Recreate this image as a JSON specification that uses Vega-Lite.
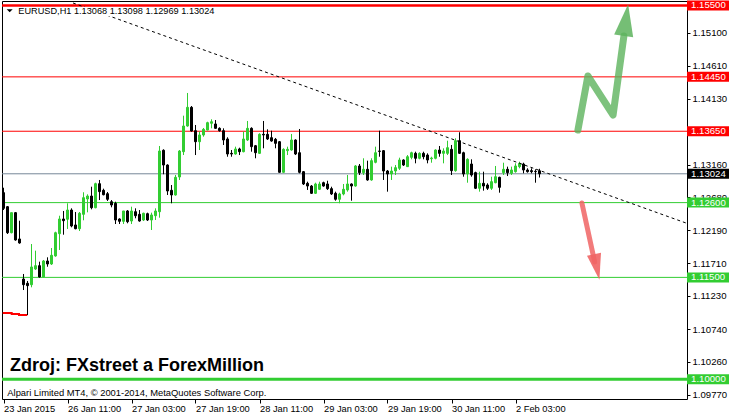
{
"$schema": "https://vega.github.io/schema/vega-lite/v6.json",
"width": 685, "height": 398,
"autosize": {"type": "none"},
"padding": {"left": 2, "top": 1, "right": 42, "bottom": 18},
"background": "#ffffff",
"config": {"view": {"stroke": "#000000", "strokeWidth": 1}, "font": "Liberation Sans",
  "axis": {"labelOverlap": false, "labelFlush": false, "grid": false, "domain": false, "title": null},
  "axisY": {"labelOverlap": false}, "axisX": {"labelOverlap": false}},
"datasets": {
"candles": [
{"i":0,"o":1.12746,"h":1.12819,"l":1.12491,"c":1.12516},
{"i":1,"o":1.12540,"h":1.12550,"l":1.12138,"c":1.12157},
{"i":2,"o":1.12157,"h":1.12452,"l":1.12148,"c":1.12452},
{"i":3,"o":1.12452,"h":1.12462,"l":1.12040,"c":1.12050},
{"i":4,"o":1.12065,"h":1.12334,"l":1.11995,"c":1.12006},
{"i":5,"o":1.11476,"h":1.11550,"l":1.11314,"c":1.11392},
{"i":6,"o":1.11413,"h":1.11447,"l":1.10946,"c":1.11378},
{"i":7,"o":1.11392,"h":1.11991,"l":1.11354,"c":1.11653},
{"i":8,"o":1.11623,"h":1.11893,"l":1.11609,"c":1.11672},
{"i":9,"o":1.11672,"h":1.11731,"l":1.11496,"c":1.11506},
{"i":10,"o":1.11506,"h":1.11756,"l":1.11501,"c":1.11741},
{"i":11,"o":1.11741,"h":1.11795,"l":1.11657,"c":1.11697},
{"i":12,"o":1.11697,"h":1.11932,"l":1.11682,"c":1.11825},
{"i":13,"o":1.11815,"h":1.12172,"l":1.11804,"c":1.12157},
{"i":14,"o":1.12143,"h":1.12407,"l":1.11903,"c":1.12359},
{"i":15,"o":1.12359,"h":1.12477,"l":1.12128,"c":1.12334},
{"i":16,"o":1.12355,"h":1.12590,"l":1.12212,"c":1.12491},
{"i":17,"o":1.12491,"h":1.12516,"l":1.12237,"c":1.12256},
{"i":18,"o":1.12271,"h":1.12462,"l":1.12207,"c":1.12216},
{"i":19,"o":1.12216,"h":1.12462,"l":1.12182,"c":1.12443},
{"i":20,"o":1.12428,"h":1.12752,"l":1.12340,"c":1.12672},
{"i":21,"o":1.12653,"h":1.12722,"l":1.12457,"c":1.12697},
{"i":22,"o":1.12697,"h":1.12834,"l":1.12501,"c":1.12525},
{"i":23,"o":1.12525,"h":1.12893,"l":1.12516,"c":1.12878},
{"i":24,"o":1.12878,"h":1.12933,"l":1.12638,"c":1.12761},
{"i":25,"o":1.12781,"h":1.12805,"l":1.12707,"c":1.12716},
{"i":26,"o":1.12731,"h":1.12756,"l":1.12624,"c":1.12649},
{"i":27,"o":1.12613,"h":1.12638,"l":1.12531,"c":1.12565},
{"i":28,"o":1.12590,"h":1.12613,"l":1.12285,"c":1.12344},
{"i":29,"o":1.12359,"h":1.12369,"l":1.12285,"c":1.12325},
{"i":30,"o":1.12325,"h":1.12477,"l":1.12285,"c":1.12477},
{"i":31,"o":1.12477,"h":1.12491,"l":1.12296,"c":1.12319},
{"i":32,"o":1.12329,"h":1.12540,"l":1.12285,"c":1.12477},
{"i":33,"o":1.12466,"h":1.12516,"l":1.12369,"c":1.12407},
{"i":34,"o":1.12428,"h":1.12491,"l":1.12319,"c":1.12329},
{"i":35,"o":1.12344,"h":1.12452,"l":1.12329,"c":1.12443},
{"i":36,"o":1.12437,"h":1.12452,"l":1.12329,"c":1.12344},
{"i":37,"o":1.12344,"h":1.12452,"l":1.12197,"c":1.12418},
{"i":38,"o":1.12407,"h":1.12516,"l":1.12344,"c":1.12477},
{"i":39,"o":1.12466,"h":1.13433,"l":1.12378,"c":1.13359},
{"i":40,"o":1.13370,"h":1.13384,"l":1.13017,"c":1.13153},
{"i":41,"o":1.13153,"h":1.13164,"l":1.12712,"c":1.12771},
{"i":42,"o":1.12781,"h":1.12859,"l":1.12590,"c":1.12712},
{"i":43,"o":1.12712,"h":1.13006,"l":1.12702,"c":1.12972},
{"i":44,"o":1.12977,"h":1.13374,"l":1.12933,"c":1.13359},
{"i":45,"o":1.13349,"h":1.13879,"l":1.13300,"c":1.13727},
{"i":46,"o":1.13727,"h":1.14213,"l":1.13717,"c":1.14002},
{"i":47,"o":1.14002,"h":1.14021,"l":1.13644,"c":1.13654},
{"i":48,"o":1.13658,"h":1.13742,"l":1.13300,"c":1.13496},
{"i":49,"o":1.13496,"h":1.13644,"l":1.13374,"c":1.13595},
{"i":50,"o":1.13595,"h":1.13698,"l":1.13570,"c":1.13678},
{"i":51,"o":1.13668,"h":1.13790,"l":1.13664,"c":1.13776},
{"i":52,"o":1.13767,"h":1.13826,"l":1.13693,"c":1.13790},
{"i":53,"o":1.13757,"h":1.13815,"l":1.13687,"c":1.13693},
{"i":54,"o":1.13693,"h":1.13708,"l":1.13644,"c":1.13658},
{"i":55,"o":1.13658,"h":1.13693,"l":1.13448,"c":1.13521},
{"i":56,"o":1.13536,"h":1.13561,"l":1.13275,"c":1.13315},
{"i":57,"o":1.13325,"h":1.13374,"l":1.13275,"c":1.13315},
{"i":58,"o":1.13315,"h":1.13423,"l":1.13305,"c":1.13389},
{"i":59,"o":1.13389,"h":1.13408,"l":1.13300,"c":1.13349},
{"i":60,"o":1.13349,"h":1.13644,"l":1.13340,"c":1.13536},
{"i":61,"o":1.13521,"h":1.13801,"l":1.13506,"c":1.13693},
{"i":62,"o":1.13693,"h":1.13708,"l":1.13349,"c":1.13423},
{"i":63,"o":1.13437,"h":1.13448,"l":1.13252,"c":1.13334},
{"i":64,"o":1.13325,"h":1.13620,"l":1.13315,"c":1.13605},
{"i":65,"o":1.13605,"h":1.13801,"l":1.13399,"c":1.13595},
{"i":66,"o":1.13605,"h":1.13678,"l":1.13521,"c":1.13536},
{"i":67,"o":1.13555,"h":1.13658,"l":1.13496,"c":1.13506},
{"i":68,"o":1.13531,"h":1.13551,"l":1.13399,"c":1.13472},
{"i":69,"o":1.13496,"h":1.13506,"l":1.13041,"c":1.13046},
{"i":70,"o":1.13046,"h":1.13399,"l":1.13041,"c":1.13384},
{"i":71,"o":1.13364,"h":1.13423,"l":1.13300,"c":1.13384},
{"i":72,"o":1.13374,"h":1.13610,"l":1.13364,"c":1.13521},
{"i":73,"o":1.13521,"h":1.13531,"l":1.13300,"c":1.13315},
{"i":74,"o":1.13334,"h":1.13683,"l":1.13031,"c":1.13046},
{"i":75,"o":1.13055,"h":1.13065,"l":1.12859,"c":1.12874},
{"i":76,"o":1.12884,"h":1.12908,"l":1.12786,"c":1.12844},
{"i":77,"o":1.12844,"h":1.12859,"l":1.12727,"c":1.12737},
{"i":78,"o":1.12737,"h":1.12893,"l":1.12727,"c":1.12874},
{"i":79,"o":1.12796,"h":1.12908,"l":1.12786,"c":1.12874},
{"i":80,"o":1.12893,"h":1.12908,"l":1.12834,"c":1.12844},
{"i":81,"o":1.12874,"h":1.12922,"l":1.12786,"c":1.12805},
{"i":82,"o":1.12805,"h":1.12834,"l":1.12712,"c":1.12727},
{"i":83,"o":1.12737,"h":1.12761,"l":1.12628,"c":1.12649},
{"i":84,"o":1.12649,"h":1.12746,"l":1.12590,"c":1.12727},
{"i":85,"o":1.12727,"h":1.12874,"l":1.12707,"c":1.12796},
{"i":86,"o":1.12786,"h":1.13006,"l":1.12761,"c":1.12874},
{"i":87,"o":1.12874,"h":1.12884,"l":1.12628,"c":1.12844},
{"i":88,"o":1.12844,"h":1.13153,"l":1.12834,"c":1.13139},
{"i":89,"o":1.13139,"h":1.13168,"l":1.13006,"c":1.13041},
{"i":90,"o":1.13041,"h":1.13252,"l":1.13006,"c":1.13090},
{"i":91,"o":1.13090,"h":1.13217,"l":1.12922,"c":1.12933},
{"i":92,"o":1.12933,"h":1.13252,"l":1.12922,"c":1.13217},
{"i":93,"o":1.13193,"h":1.13423,"l":1.13178,"c":1.13334},
{"i":94,"o":1.13359,"h":1.13658,"l":1.13275,"c":1.13354},
{"i":95,"o":1.13364,"h":1.13374,"l":1.12933,"c":1.13065},
{"i":96,"o":1.13065,"h":1.13080,"l":1.12761,"c":1.13021},
{"i":97,"o":1.13021,"h":1.13129,"l":1.12933,"c":1.13065},
{"i":98,"o":1.13065,"h":1.13153,"l":1.13006,"c":1.13114},
{"i":99,"o":1.13105,"h":1.13261,"l":1.13080,"c":1.13227},
{"i":100,"o":1.13227,"h":1.13237,"l":1.13139,"c":1.13153},
{"i":101,"o":1.13129,"h":1.13300,"l":1.13124,"c":1.13275},
{"i":102,"o":1.13266,"h":1.13349,"l":1.13237,"c":1.13334},
{"i":103,"o":1.13325,"h":1.13349,"l":1.13178,"c":1.13252},
{"i":104,"o":1.13252,"h":1.13340,"l":1.13237,"c":1.13325},
{"i":105,"o":1.13325,"h":1.13349,"l":1.13237,"c":1.13275},
{"i":106,"o":1.13300,"h":1.13325,"l":1.13178,"c":1.13227},
{"i":107,"o":1.13246,"h":1.13275,"l":1.13187,"c":1.13256},
{"i":108,"o":1.13252,"h":1.13384,"l":1.13237,"c":1.13374},
{"i":109,"o":1.13374,"h":1.13433,"l":1.13275,"c":1.13325},
{"i":110,"o":1.13325,"h":1.13399,"l":1.13178,"c":1.13359},
{"i":111,"o":1.13325,"h":1.13511,"l":1.13300,"c":1.13408},
{"i":112,"o":1.13384,"h":1.13448,"l":1.13006,"c":1.13070},
{"i":113,"o":1.13070,"h":1.13546,"l":1.13055,"c":1.13511},
{"i":114,"o":1.13511,"h":1.13635,"l":1.13315,"c":1.13325},
{"i":115,"o":1.13334,"h":1.13349,"l":1.12981,"c":1.13021},
{"i":116,"o":1.13021,"h":1.13252,"l":1.12893,"c":1.13237},
{"i":117,"o":1.13168,"h":1.13237,"l":1.12981,"c":1.13006},
{"i":118,"o":1.13041,"h":1.13055,"l":1.12800,"c":1.12811},
{"i":119,"o":1.12811,"h":1.13055,"l":1.12761,"c":1.12884},
{"i":120,"o":1.12884,"h":1.13055,"l":1.12776,"c":1.12844},
{"i":121,"o":1.12859,"h":1.12884,"l":1.12786,"c":1.12811},
{"i":122,"o":1.12811,"h":1.12981,"l":1.12786,"c":1.12908},
{"i":123,"o":1.12893,"h":1.13139,"l":1.12884,"c":1.12981},
{"i":124,"o":1.12972,"h":1.12981,"l":1.12746,"c":1.12825},
{"i":125,"o":1.13041,"h":1.13187,"l":1.13006,"c":1.13090},
{"i":126,"o":1.13090,"h":1.13129,"l":1.12991,"c":1.13041},
{"i":127,"o":1.13031,"h":1.13129,"l":1.13006,"c":1.13080},
{"i":128,"o":1.13055,"h":1.13178,"l":1.13041,"c":1.13139},
{"i":129,"o":1.13129,"h":1.13202,"l":1.13105,"c":1.13178},
{"i":130,"o":1.13168,"h":1.13187,"l":1.13031,"c":1.13080},
{"i":131,"o":1.13080,"h":1.13105,"l":1.13041,"c":1.13055},
{"i":132,"o":1.13070,"h":1.13105,"l":1.13031,"c":1.13055},
{"i":133,"o":1.13061,"h":1.13090,"l":1.12893,"c":1.13055},
{"i":134,"o":1.13068,"h":1.13098,"l":1.12969,"c":1.13024}
],
"levels": [
{"price":1.155,"kind":"r","label":"1.15500"},
{"price":1.1445,"kind":"r","label":"1.14450"},
{"price":1.1365,"kind":"r","label":"1.13650"},
{"price":1.13024,"kind":"b","label":"1.13024"},
{"price":1.126,"kind":"s","label":"1.12600"},
{"price":1.115,"kind":"s","label":"1.11500"},
{"price":1.1,"kind":"s","label":"1.10000"}
],
"trend": [{"i":17.375,"p":1.15537},{"i":170.625,"p":1.12300}],
"redstep": [{"i":-0.2,"p":1.10976},{"i":2.05,"p":1.10961},{"i":3.875,"p":1.10947},{"i":5.95,"p":1.10947}],
"arrows": [
{"arrow":"up","k":0,"i":143.6,"p":1.13668},
{"arrow":"up","k":1,"i":146.1,"p":1.14463},
{"arrow":"up","k":2,"i":152.4,"p":1.13889},
{"arrow":"up","k":3,"i":155.1,"p":1.15051},
{"arrow":"down","k":0,"i":144.6,"p":1.12594},
{"arrow":"down","k":1,"i":147.8,"p":1.11726}
],
"heads": [
{"arrow":"up","i":155.6,"p":1.15287},
{"arrow":"down","i":148.3,"p":1.11653}
]
},
"layer": [
{"data":{"name":"levels"},
 "mark":{"type":"rule","strokeWidth":1},
 "encoding":{
  "x":{"datum":-0.375,"type":"quantitative","scale":{"domain":[-0.375,170.875],"nice":false,"zero":false,"padding":0},
   "axis":{"values":[0,16,32,48,64,80,96,112,128],"tickCount":40,
    "labelExpr":"datum.value==0?'23 Jan 2015':datum.value==16?'26 Jan 11:00':datum.value==32?'27 Jan 03:00':datum.value==48?'27 Jan 19:00':datum.value==64?'28 Jan 11:00':datum.value==80?'29 Jan 03:00':datum.value==96?'29 Jan 19:00':datum.value==112?'30 Jan 11:00':'2 Feb 03:00'",
    "title":null,"grid":false,"domain":false,"ticks":true,"tickColor":"#000000","tickSize":4,"labelAlign":"left","labelPadding":1,"labelFontSize":9.3,"labelFont":"Liberation Sans","labelColor":"#000000","labelOverlap":false,"labelFlush":false,"labelBound":false}},
  "x2":{"datum":170.875},
  "y":{"field":"price","type":"quantitative","scale":{"domain":[1.097106,1.155662],"nice":false,"zero":false,"padding":0},
   "axis":{"orient":"right","values":[1.151,1.1461,1.1413,1.1364,1.1316,1.1268,1.1219,1.1171,1.1123,1.1074,1.1026,1.0977],"tickCount":40,"format":".5f","title":null,"grid":false,"domain":false,"tickColor":"#000000","tickSize":3,"labelPadding":2,"labelFontSize":9.6,"labelFont":"Liberation Sans","labelColor":"#000000","labelOverlap":false,"labelFlush":false,"labelBaseline":"middle","labelSeparation":0}},
  "color":{"condition":[{"test":"datum.kind=='r'","value":"#FF0000"},{"test":"datum.kind=='b'","value":"#778899"}],"value":"#32CD32"}
 }},
{"data":{"name":"levels"},
 "transform":[{"filter":"datum.price==1.155"}],
 "mark":{"type":"rule","strokeWidth":2.5,"color":"#FF0000"},
 "encoding":{
  "x":{"datum":-0.375,"type":"quantitative","scale":{"domain":[-0.375,170.875],"nice":false,"zero":false,"padding":0}},
  "x2":{"datum":170.875},
  "y":{"field":"price","type":"quantitative","scale":{"domain":[1.097106,1.155662],"nice":false,"zero":false,"padding":0}}
 }},
{"data":{"name":"levels"},
 "transform":[{"filter":"datum.price==1.1"}],
 "mark":{"type":"rule","strokeWidth":3,"color":"#32CD32"},
 "encoding":{
  "x":{"datum":-0.375,"type":"quantitative","scale":{"domain":[-0.375,170.875],"nice":false,"zero":false,"padding":0}},
  "x2":{"datum":170.875},
  "y":{"field":"price","type":"quantitative","scale":{"domain":[1.097106,1.155662],"nice":false,"zero":false,"padding":0}}
 }},
{"data":{"name":"redstep"},
 "mark":{"type":"line","interpolate":"step-after","strokeWidth":2,"color":"#FF0000"},
 "encoding":{
  "x":{"field":"i","type":"quantitative","scale":{"domain":[-0.375,170.875],"nice":false,"zero":false,"padding":0}},
  "y":{"field":"p","type":"quantitative","scale":{"domain":[1.097106,1.155662],"nice":false,"zero":false,"padding":0}}
 }},
{"data":{"name":"candles"},
 "mark":{"type":"rule","strokeWidth":1},
 "encoding":{
  "x":{"field":"i","type":"quantitative","scale":{"domain":[-0.375,170.875],"nice":false,"zero":false,"padding":0}},
  "y":{"field":"l","type":"quantitative","scale":{"domain":[1.097106,1.155662],"nice":false,"zero":false,"padding":0}},
  "y2":{"field":"h"},
  "color":{"condition":{"test":"datum.c>=datum.o","value":"#32CD32"},"value":"#000000"}
 }},
{"data":{"name":"candles"},
 "mark":{"type":"bar","orient":"vertical","size":2,"strokeWidth":1},
 "encoding":{
  "x":{"field":"i","type":"quantitative","scale":{"domain":[-0.375,170.875],"nice":false,"zero":false,"padding":0}},
  "y":{"field":"o","type":"quantitative","scale":{"domain":[1.097106,1.155662],"nice":false,"zero":false,"padding":0}},
  "y2":{"field":"c"},
  "fill":{"condition":{"test":"datum.c>=datum.o","value":"#32CD32"},"value":"#000000"},
  "stroke":{"condition":{"test":"datum.c>=datum.o","value":"#32CD32"},"value":"#000000"}
 }},
{"data":{"name":"trend"},
 "mark":{"type":"line","strokeWidth":1,"strokeDash":[3,3],"color":"#000000"},
 "encoding":{
  "x":{"field":"i","type":"quantitative","scale":{"domain":[-0.375,170.875],"nice":false,"zero":false,"padding":0}},
  "y":{"field":"p","type":"quantitative","scale":{"domain":[1.097106,1.155662],"nice":false,"zero":false,"padding":0}}
 }},
{"data":{"values":[{"t":"EURUSD,H1  1.13068 1.13098 1.12969 1.13024"}]},
 "mark":{"type":"bar","orient":"horizontal","size":9,"color":"#ffffff"},
 "encoding":{
  "x":{"datum":1.0,"type":"quantitative","scale":{"domain":[-0.375,170.875],"nice":false,"zero":false,"padding":0}},
  "x2":{"datum":54.5},
  "y":{"datum":1.15413,"type":"quantitative","scale":{"domain":[1.097106,1.155662],"nice":false,"zero":false,"padding":0}}
 }},
{"data":{"values":[{"t":"EURUSD,H1  1.13068 1.13098 1.12969 1.13024"}]},
 "mark":{"type":"text","align":"left","baseline":"middle","fontSize":9.2,"font":"Liberation Sans","color":"#000000"},
 "encoding":{
  "x":{"datum":3.7,"type":"quantitative","scale":{"domain":[-0.375,170.875],"nice":false,"zero":false,"padding":0}},
  "y":{"datum":1.15419,"type":"quantitative","scale":{"domain":[1.097106,1.155662],"nice":false,"zero":false,"padding":0}},
  "text":{"field":"t"}
 }},
{"data":{"values":[{"t":"marker"}]},
 "mark":{"type":"point","shape":"M-1,-0.5L1,-0.5L0,0.5Z","filled":true,"size":36,"color":"#000000","opacity":1},
 "encoding":{
  "x":{"datum":1.55,"type":"quantitative","scale":{"domain":[-0.375,170.875],"nice":false,"zero":false,"padding":0}},
  "y":{"datum":1.15422,"type":"quantitative","scale":{"domain":[1.097106,1.155662],"nice":false,"zero":false,"padding":0}}
 }},
{"data":{"name":"arrows"},
 "transform":[{"filter":"datum.arrow=='up'"}],
 "mark":{"type":"line","strokeWidth":7,"strokeJoin":"round","strokeCap":"round","color":"#5DB35D","opacity":0.8},
 "encoding":{
  "x":{"field":"i","type":"quantitative","scale":{"domain":[-0.375,170.875],"nice":false,"zero":false,"padding":0}},
  "y":{"field":"p","type":"quantitative","scale":{"domain":[1.097106,1.155662],"nice":false,"zero":false,"padding":0}},
  "order":{"field":"k"}
 }},
{"data":{"name":"arrows"},
 "transform":[{"filter":"datum.arrow=='down'"}],
 "mark":{"type":"line","strokeWidth":5,"strokeJoin":"round","strokeCap":"round","color":"#F06464","opacity":0.85},
 "encoding":{
  "x":{"field":"i","type":"quantitative","scale":{"domain":[-0.375,170.875],"nice":false,"zero":false,"padding":0}},
  "y":{"field":"p","type":"quantitative","scale":{"domain":[1.097106,1.155662],"nice":false,"zero":false,"padding":0}},
  "order":{"field":"k"}
 }},
{"data":{"name":"heads"},
 "transform":[{"filter":"datum.arrow=='up'"}],
 "mark":{"type":"point","shape":"M0,-1L0.6,1L-0.6,1Z","filled":true,"size":1024,"angle":8,"color":"#5DB35D","opacity":0.85},
 "encoding":{
  "x":{"field":"i","type":"quantitative","scale":{"domain":[-0.375,170.875],"nice":false,"zero":false,"padding":0}},
  "y":{"field":"p","type":"quantitative","scale":{"domain":[1.097106,1.155662],"nice":false,"zero":false,"padding":0}}
 }},
{"data":{"name":"heads"},
 "transform":[{"filter":"datum.arrow=='down'"}],
 "mark":{"type":"point","shape":"M0,-1L0.55,1L-0.55,1Z","filled":true,"size":676,"angle":168,"color":"#F06464","opacity":0.9},
 "encoding":{
  "x":{"field":"i","type":"quantitative","scale":{"domain":[-0.375,170.875],"nice":false,"zero":false,"padding":0}},
  "y":{"field":"p","type":"quantitative","scale":{"domain":[1.097106,1.155662],"nice":false,"zero":false,"padding":0}}
 }},
{"data":{"name":"levels"},
 "mark":{"type":"bar","orient":"horizontal","size":10},
 "encoding":{
  "x":{"datum":170.875,"type":"quantitative","scale":{"domain":[-0.375,170.875],"nice":false,"zero":false,"padding":0}},
  "x2":{"datum":182},
  "y":{"field":"price","type":"quantitative","scale":{"domain":[1.097106,1.155662],"nice":false,"zero":false,"padding":0}},
  "color":{"condition":[{"test":"datum.kind=='r'","value":"#FF0000"},{"test":"datum.kind=='b'","value":"#000000"}],"value":"#32CD32"}
 }},
{"data":{"name":"levels"},
 "mark":{"type":"text","align":"left","baseline":"middle","fontSize":9.6,"font":"Liberation Sans","color":"#ffffff"},
 "encoding":{
  "x":{"datum":171.9,"type":"quantitative","scale":{"domain":[-0.375,170.875],"nice":false,"zero":false,"padding":0}},
  "y":{"field":"price","type":"quantitative","scale":{"domain":[1.097106,1.155662],"nice":false,"zero":false,"padding":0}},
  "text":{"field":"label"}
 }},
{"data":{"values":[{"t":"Zdroj: FXstreet a ForexMillion"}]},
 "mark":{"type":"text","align":"left","baseline":"middle","fontSize":18,"fontWeight":"bold","font":"Liberation Sans","color":"#000000"},
 "encoding":{
  "x":{"datum":1.625,"type":"quantitative","scale":{"domain":[-0.375,170.875],"nice":false,"zero":false,"padding":0}},
  "y":{"datum":1.10196,"type":"quantitative","scale":{"domain":[1.097106,1.155662],"nice":false,"zero":false,"padding":0}},
  "text":{"field":"t"}
 }},
{"data":{"values":[{"t":"Alpari Limited MT4, © 2001-2014, MetaQuotes Software Corp."}]},
 "mark":{"type":"text","align":"left","baseline":"middle","fontSize":9.4,"font":"Liberation Sans","color":"#000000"},
 "encoding":{
  "x":{"datum":0.95,"type":"quantitative","scale":{"domain":[-0.375,170.875],"nice":false,"zero":false,"padding":0}},
  "y":{"datum":1.09792,"type":"quantitative","scale":{"domain":[1.097106,1.155662],"nice":false,"zero":false,"padding":0}},
  "text":{"field":"t"}
 }}
]
}
